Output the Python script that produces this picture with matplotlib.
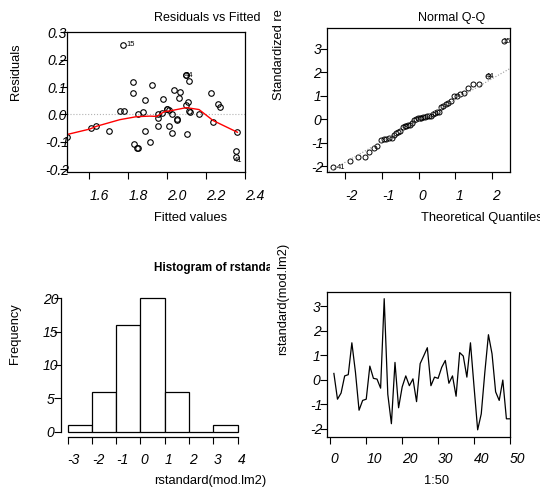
from statistics import NormalDist

import matplotlib
matplotlib.use("Agg")
import matplotlib.pyplot as plt
import numpy as np
from matplotlib.transforms import Bbox, TransformedBbox

plt.rcParams["font.family"] = ["Liberation Sans", "DejaVu Sans"]
plt.rcParams["axes.unicode_minus"] = False

# fitted values and raw residuals
fitted = [1.487, 1.774, 1.607, 1.633, 1.701, 1.757, 1.778, 1.826, 1.826, 1.887,
          1.923, 1.853, 1.874, 1.887, 1.829, 1.848, 1.852, 1.911, 2.099, 2.115,
          2.036, 2.067, 2.060, 1.981, 2.105, 2.095, 2.223, 2.260, 2.274, 1.998,
          2.009, 1.974, 1.951, 1.954, 2.026, 2.112, 2.116, 2.164, 2.049, 2.053,
          2.236, 1.951, 2.010, 2.023, 2.101, 2.361, 2.352, 2.352, 2.097, 2.002]
resid = [-0.082, 0.255, -0.051, -0.041, -0.061, 0.011, 0.013, 0.118, 0.079, 0.052,
         0.106, 0.001, 0.009, -0.061, -0.107, -0.121, -0.124, -0.102, 0.143, 0.121,
         0.088, 0.082, 0.061, 0.055, 0.047, 0.035, 0.077, 0.037, 0.027, 0.019,
         0.017, 0.007, 0.002, -0.013, 0.001, 0.013, 0.009, 0.000, -0.018, -0.020,
         -0.029, -0.043, -0.043, -0.069, -0.071, -0.063, -0.135, -0.156, 0.144, 0.021]

# red smoother drawn in the residual plot
smooth_x = [1.487, 1.604, 1.638, 1.757, 1.843, 1.911, 1.946, 1.988, 2.014, 2.099, 2.164, 2.236, 2.361]
smooth_y = [-0.073, -0.053, -0.043, -0.019, -0.008, -0.006, -0.007, 0.011, 0.013, 0.025, 0.018, -0.022, -0.065]

# standardized residuals, observation 1..50
rstd = [0.25, -0.8, -0.55, 0.15, 0.2, 1.5, 0.3, -1.25, -0.85, -0.8,
        0.55, 0.05, 0.02, -0.35, 3.3, -0.6, -1.8, 0.7, -1.15, -0.3,
        0.15, -0.25, 0.03, -0.9, 0.65, 0.97, 1.3, -0.25, 0.1, 0.05,
        0.5, 0.78, -0.15, 0.15, -0.68, 1.1, 0.96, 0.1, 1.5, -0.3,
        -2.05, -1.4, 0.3, 1.83, 1.05, -0.5, -0.85, -0.02, -1.6, -1.6]
obs = list(range(1, 51))
hist_bins = [-3, -2, -1, 0, 1, 2, 3, 4]

W, H = 540, 491
fig = plt.figure(figsize=(W / 100, H / 100), dpi=100)


def box(x0, y0, x1, y1):
    # pixel box (top-left origin) -> axes rect
    return [x0 / W, 1 - y1 / H, (x1 - x0) / W, (y1 - y0) / H]


def style_ticks(ax, xt, xl, yt, yl, xpad=6.5):
    ax.set_xticks(xt, xl, ha="left", fontstyle="italic", fontsize=10)
    ax.set_yticks(yt, yl, ha="center", fontstyle="italic", fontsize=10)
    ax.tick_params(axis="x", length=4.7, width=0.8, pad=xpad)
    ax.tick_params(axis="y", length=4.7, width=0.8, pad=2.5)
    for s in ax.spines.values():
        s.set_linewidth(0.9)


def label(x, y, s, rot=0, clip=None, **kw):
    t = fig.text(x / W, 1 - y / H, s, rotation=rot, **kw)
    if clip is not None:
        t.set_clip_on(True)
        t.set_clip_box(TransformedBbox(Bbox.from_extents(*clip), fig.transFigure))
    return t


# --- Residuals vs Fitted
ax1 = fig.add_axes(box(67, 32.3, 245, 172))
ax1.axhline(0, color="0.7", ls=":", lw=0.8)
ax1.plot(fitted, resid, "o", ms=4, mfc="none", mec="black", mew=0.8)
ax1.plot(smooth_x, smooth_y, color="red", lw=1)
ax1.set_xlim(1.486, 2.399)
ax1.set_ylim(-0.21, 0.293)
style_ticks(ax1, [1.6, 1.8, 2.0, 2.2, 2.4], ["1.6", "1.8", "2.0", "2.2", "2.4"],
            [-0.2, -0.1, 0.0, 0.1, 0.2, 0.3], ["-0.2", "-0.1", "0.0", "0.1", "0.2", "0.3"], xpad=7.5)
ax1.annotate("15", (fitted[1], resid[1]), xytext=(2.5, 0), textcoords="offset points",
             fontsize=5.5, va="center")
ax1.annotate("44", (fitted[18], resid[18]), xytext=(-1, 0), textcoords="offset points",
             fontsize=5.5, va="center")
ax1.annotate("41", (fitted[47], resid[47]), xytext=(-1, -2.5), textcoords="offset points",
             fontsize=5.5, va="center")
label(154, 18, "Residuals vs Fitted", fontsize=9, va="center")
label(154, 218, "Fitted values", fontsize=9.3, va="center")
label(16, 100, "Residuals", rot=90, fontsize=9.3, ha="center", va="bottom")

# --- Normal Q-Q
ax2 = fig.add_axes(box(327.3, 28.3, 510, 171.7))
n = len(rstd)
theo = [NormalDist().inv_cdf((i - 0.5) / n) for i in range(1, n + 1)]
order = np.argsort(rstd)
samp = np.array(rstd)[order]
ax2.plot(theo, samp, "o", ms=3.6, mfc="none", mec="black", mew=0.7)
q1, q3 = np.quantile(rstd, [0.25, 0.75])
t1, t3 = NormalDist().inv_cdf(0.25), NormalDist().inv_cdf(0.75)
slope = (q3 - q1) / (t3 - t1)
icpt = q1 - slope * t1
xx = np.array([-3, 3])
ax2.plot(xx, icpt + slope * xx, color="0.6", ls=":", lw=0.8)
ax2.set_xlim(-2.49, 2.49)
ax2.set_ylim(-2.24, 3.86)
style_ticks(ax2, [-2, -1, 0, 1, 2], ["-2", "-1", "0", "1", "2"],
            [-2, -1, 0, 1, 2, 3], ["-2", "-1", "0", "1", "2", "3"], xpad=7.5)
ax2.annotate("15", (theo[-1], samp[-1]), xytext=(-1, 0), textcoords="offset points",
             fontsize=5.5, va="center")
ax2.annotate("44", (theo[-2], samp[-2]), xytext=(-1, 0), textcoords="offset points",
             fontsize=5.5, va="center")
ax2.annotate("41", (theo[0], samp[0]), xytext=(2.5, 0), textcoords="offset points",
             fontsize=5.5, va="center")
label(418.5, 18, "Normal Q-Q", fontsize=9, va="center")
label(420.7, 218, "Theoretical Quantiles", fontsize=9.3, va="center")
label(279, 100, "Standardized residuals", rot=90, fontsize=9.3, ha="center", va="bottom",
      clip=(0.5, 0, 1, 1 - 10 / H))

# --- Histogram
ax3 = fig.add_axes(box(60.7, 293, 244.5, 437))
ax3.hist(rstd, bins=hist_bins, facecolor="white", edgecolor="black", lw=0.9)
ax3.set_xlim(-3.28, 4.28)
ax3.set_ylim(-0.8, 20.8)
ax3.spines["top"].set_visible(False)
ax3.spines["right"].set_visible(False)
ax3.spines["left"].set_bounds(0, 20)
ax3.spines["bottom"].set_bounds(-3, 4)
style_ticks(ax3, hist_bins, [str(b) for b in hist_bins],
            [0, 5, 10, 15, 20], ["0", "5", "10", "15", "20"])
label(154, 267.5, "Histogram of rstandard(mod.lm2)", fontsize=8.5, fontweight="bold",
      va="center", clip=(0, 0, 0.5, 1))
label(154, 481, "rstandard(mod.lm2)", fontsize=9.3, va="center")
label(15, 364, "Frequency", rot=90, fontsize=9.3, ha="center", va="bottom")

# --- Index plot
ax4 = fig.add_axes(box(326.7, 292.3, 510, 436.7))
ax4.plot(obs, rstd, color="black", lw=0.9)
ax4.set_xlim(-1.0, 50)
ax4.set_ylim(-2.33, 3.56)
style_ticks(ax4, [0, 10, 20, 30, 40, 50], ["0", "10", "20", "30", "40", "50"],
            [-2, -1, 0, 1, 2, 3], ["-2", "-1", "0", "1", "2", "3"])
label(424, 481, "1:50", fontsize=9.3, va="center")
label(283, 355, "rstandard(mod.lm2)", rot=90, fontsize=9.3, ha="center", va="bottom")

fig.savefig("out.png", dpi=100)
